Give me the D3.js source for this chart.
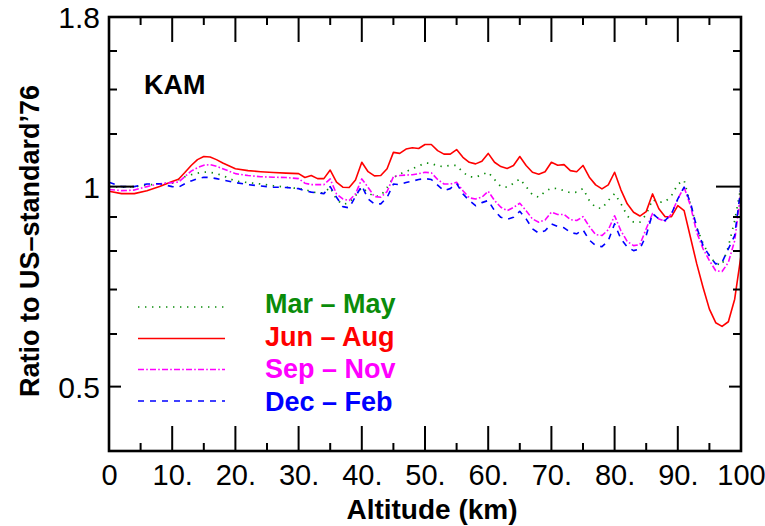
<!DOCTYPE html>
<html>
<head>
<meta charset="utf-8">
<script src="https://cdn.jsdelivr.net/npm/d3@7"></script>
<style>
  html, body { margin: 0; padding: 0; background: #fff; }
  svg { display: block; font-family: "Liberation Sans", Arial, Helvetica, sans-serif; }
</style>
</head>
<body>
<svg id="chart" width="765" height="526"></svg>
<script>
// Altitude grid (km)
const altitude = [0, 2, 4, 6, 8, 10, 11, 12, 13, 14, 15, 16, 17, 18, 20, 22, 24, 26, 28, 30,
  31, 32, 33, 34, 35, 36, 37, 38, 39, 40, 41, 42, 43, 44, 45, 46, 47, 48, 49, 50,
  51, 52, 53, 54, 55, 56, 57, 58, 59, 60, 61, 62, 63, 64, 65, 66, 67, 68, 69, 70,
  71, 72, 73, 74, 75, 76, 77, 78, 79, 80, 81, 82, 83, 84, 85, 86, 87, 88, 89, 90,
  91, 92, 93, 94, 95, 96, 97, 98, 99, 100];

// Seasonal density ratio to US-standard'76, KAM
const marMay = [1.0, 0.998, 1.0, 1.005, 1.010, 1.012, 1.025, 1.035, 1.042, 1.048, 1.052, 1.051, 1.046, 1.039, 1.019, 1.014, 1.009, 1.003, 0.998, 0.993,
  0.990, 0.983, 0.978, 0.979, 0.997, 0.956, 0.940, 0.946, 0.969, 0.997, 0.979, 0.966, 0.969, 0.997, 1.032, 1.045, 1.053, 1.064, 1.074, 1.085,
  1.084, 1.074, 1.072, 1.077, 1.076, 1.051, 1.035, 1.033, 1.042, 1.051, 1.025, 1.0, 0.998, 1.011, 1.027, 1.0, 0.972, 0.964, 0.983, 0.995,
  0.993, 0.986, 0.979, 0.981, 0.993, 0.953, 0.930, 0.927, 0.953, 0.976, 0.943, 0.904, 0.884, 0.884, 0.908, 0.956, 0.947, 0.949, 0.969, 1.008,
  1.022, 0.940, 0.868, 0.821, 0.787, 0.766, 0.762, 0.812, 0.889, 1.0];

const junAug = [0.984, 0.976, 0.976, 0.986, 1.0, 1.018, 1.026, 1.050, 1.076, 1.098, 1.110, 1.108, 1.098, 1.085, 1.064, 1.057, 1.053, 1.050, 1.048, 1.046,
  1.032, 1.039, 1.028, 1.028, 1.059, 1.016, 0.998, 0.997, 1.023, 1.088, 1.053, 1.038, 1.039, 1.064, 1.126, 1.122, 1.139, 1.144, 1.141, 1.157,
  1.157, 1.133, 1.119, 1.119, 1.137, 1.107, 1.088, 1.082, 1.092, 1.122, 1.088, 1.072, 1.065, 1.076, 1.110, 1.076, 1.051, 1.044, 1.053, 1.088,
  1.077, 1.079, 1.057, 1.053, 1.076, 1.033, 1.006, 0.992, 1.006, 1.051, 0.989, 0.942, 0.915, 0.903, 0.917, 0.975, 0.926, 0.901, 0.901, 0.936,
  0.920, 0.839, 0.765, 0.705, 0.654, 0.624, 0.616, 0.626, 0.677, 0.787];

const sepNov = [0.990, 0.986, 0.988, 1.0, 1.010, 1.014, 1.016, 1.035, 1.055, 1.068, 1.077, 1.079, 1.073, 1.064, 1.046, 1.039, 1.035, 1.033, 1.032, 1.028,
  1.012, 1.007, 1.007, 1.007, 1.027, 0.975, 0.958, 0.953, 0.975, 1.027, 0.997, 0.966, 0.964, 0.983, 1.035, 1.039, 1.041, 1.042, 1.046, 1.051,
  1.049, 1.025, 1.009, 1.009, 1.015, 0.986, 0.962, 0.958, 0.964, 0.984, 0.953, 0.931, 0.920, 0.930, 0.944, 0.920, 0.894, 0.884, 0.891, 0.915,
  0.908, 0.908, 0.892, 0.889, 0.901, 0.871, 0.847, 0.844, 0.861, 0.904, 0.858, 0.827, 0.815, 0.818, 0.864, 0.911, 0.894, 0.887, 0.910, 0.958,
  0.998, 0.936, 0.853, 0.806, 0.774, 0.747, 0.745, 0.769, 0.829, 0.986];

const decFeb = [1.015, 1.0, 1.0, 1.009, 1.010, 1.0, 0.998, 1.010, 1.020, 1.028, 1.033, 1.032, 1.028, 1.023, 1.014, 1.007, 1.002, 0.998, 0.997, 0.993,
  0.986, 0.981, 0.978, 0.976, 1.0, 0.964, 0.933, 0.929, 0.966, 1.003, 0.958, 0.942, 0.942, 0.963, 1.009, 1.007, 1.014, 1.019, 1.025, 1.028,
  1.025, 1.005, 0.986, 0.993, 1.011, 0.975, 0.953, 0.936, 0.946, 0.953, 0.920, 0.899, 0.893, 0.899, 0.918, 0.894, 0.864, 0.851, 0.858, 0.879,
  0.871, 0.867, 0.853, 0.849, 0.861, 0.831, 0.815, 0.812, 0.829, 0.879, 0.834, 0.811, 0.801, 0.806, 0.844, 0.911, 0.894, 0.889, 0.910, 0.958,
  0.998, 0.947, 0.868, 0.815, 0.787, 0.765, 0.769, 0.806, 0.844, 0.998];

const seasonNames = ["Mar \u2013 May", "Jun \u2013 Aug", "Sep \u2013 Nov", "Dec \u2013 Feb"];
const seasonColors = ["#0a8c0a", "#ff0000", "#ff00ff", "#0000ff"];
const seasonDashes = ["1.4,5.6", null, "6,2.2,1.6,2.2", "6,6"];
const seasonValues = [marMay, junAug, sepNov, decFeb];

const xTickValues = [0, 10, 20, 30, 40, 50, 60, 70, 80, 90, 100];
const xTickLabels = ["0", "10.", "20.", "30.", "40.", "50.", "60.", "70.", "80.", "90.", "100"];
const yTickValues = [1.8, 1, 0.5];
const yTickLabels = ["1.8", "1", "0.5"];
const yMinorTicks = [0.5, 0.6, 0.7, 0.8, 0.9, 1.2, 1.4, 1.6];

const svg = d3.select("#chart");
const plotLeft = 109, plotRight = 741, plotTop = 17, plotBottom = 451;

const x = d3.scaleLinear().domain([0, 100]).range([plotLeft, plotRight]);
const y = d3.scaleLog().domain([0.4, 1.8]).range([plotBottom, plotTop]);

// Curves
const line = d3.line()
  .x(d => x(d[0]))
  .y(d => y(d[1]));

seasonValues.forEach((vals, i) => {
  const pts = altitude.map((a, k) => [a, vals[k]]);
  const p = svg.append("path")
    .datum(pts)
    .attr("d", line)
    .attr("fill", "none")
    .attr("stroke", seasonColors[i])
    .attr("stroke-width", i === 0 ? 1.7 : 1.6)
    .attr("stroke-linejoin", "round");
  if (seasonDashes[i]) p.attr("stroke-dasharray", seasonDashes[i]);
});

// Axes: inward ticks on all four sides
function tick(x1, y1, x2, y2) {
  svg.append("line").attr("x1", x1).attr("y1", y1).attr("x2", x2).attr("y2", y2)
    .attr("stroke", "#000").attr("stroke-width", 2);
}
const xMinor = d3.range(5, 100, 10);
const xMajor = d3.range(10, 100, 10);
xMinor.forEach(v => { tick(x(v), plotBottom, x(v), plotBottom - 8); tick(x(v), plotTop, x(v), plotTop + 8); });
xMajor.forEach(v => { tick(x(v), plotBottom, x(v), plotBottom - 25); tick(x(v), plotTop, x(v), plotTop + 25); });
yMinorTicks.forEach(v => {
  const len = v === 0.5 ? 12 : 8;
  tick(plotLeft, y(v), plotLeft + len, y(v));
  tick(plotRight, y(v), plotRight - len, y(v));
});
tick(plotLeft, y(1), plotLeft + 25, y(1));
tick(plotRight, y(1), plotRight - 25, y(1));

// Frame
svg.append("rect")
  .attr("x", plotLeft).attr("y", plotTop)
  .attr("width", plotRight - plotLeft).attr("height", plotBottom - plotTop)
  .attr("fill", "none").attr("stroke", "#000").attr("stroke-width", 2.6);

// Tick labels
const xAxis = d3.axisBottom(x).tickValues(xTickValues)
  .tickFormat((d, i) => xTickLabels[i]).tickSize(0).tickPadding(0);
const gx = svg.append("g").attr("transform", `translate(0,${plotBottom})`).call(xAxis);
gx.select(".domain").remove();
gx.selectAll("text")
  .attr("y", 34).attr("dy", null)
  .style("font-size", "29px").style("font-family", "'Liberation Sans', Arial, sans-serif")
  .attr("fill", "#000");

const yAxis = d3.axisLeft(y).tickValues(yTickValues)
  .tickFormat((d, i) => yTickLabels[i]).tickSize(0).tickPadding(0);
const gy = svg.append("g").attr("transform", `translate(${plotLeft},0)`).call(yAxis);
gy.select(".domain").remove();
gy.selectAll("text")
  .attr("x", -9).attr("dy", "0.36em")
  .style("font-size", "30px").style("font-family", "'Liberation Sans', Arial, sans-serif")
  .attr("fill", "#000");

// Axis titles
svg.append("text")
  .attr("x", 432).attr("y", 519)
  .attr("text-anchor", "middle")
  .style("font-size", "28px").style("font-weight", "bold")
  .text("Altitude (km)");

svg.append("text")
  .attr("transform", "translate(39,241) rotate(-90)")
  .attr("text-anchor", "middle")
  .style("font-size", "27px").style("font-weight", "bold")
  .text("Ratio to US\u2013standard\u201976");

// Station label
svg.append("text")
  .attr("x", 144).attr("y", 94)
  .style("font-size", "27px").style("font-weight", "bold")
  .text("KAM");

// Legend
const legendLineY = [307, 338.5, 369.5, 401];
const legendTextY = [313, 345.5, 378, 410.5];
seasonNames.forEach((name, i) => {
  const l = svg.append("line")
    .attr("x1", 138).attr("x2", 225)
    .attr("y1", legendLineY[i]).attr("y2", legendLineY[i])
    .attr("stroke", seasonColors[i]).attr("stroke-width", 1.6);
  if (seasonDashes[i]) l.attr("stroke-dasharray", seasonDashes[i]);
  svg.append("text")
    .attr("x", 265).attr("y", legendTextY[i])
    .attr("fill", seasonColors[i])
    .style("font-size", "27px").style("font-weight", "bold")
    .text(name);
});
</script>
</body>
</html>
